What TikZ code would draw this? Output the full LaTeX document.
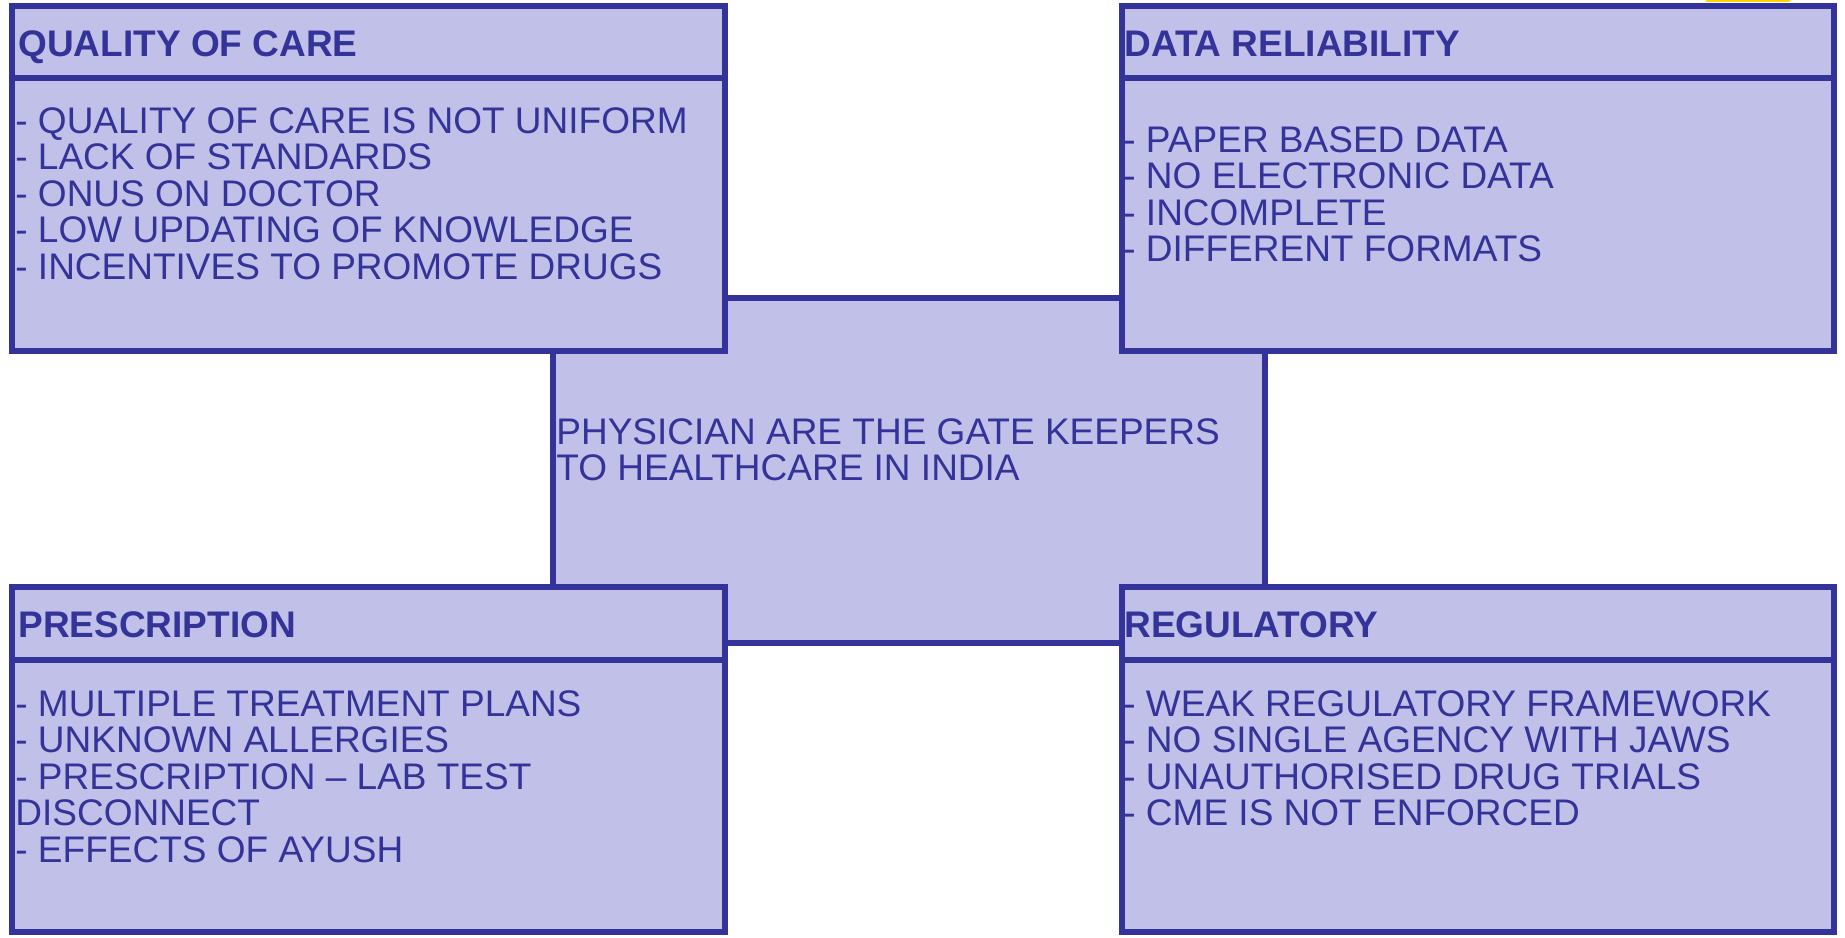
\documentclass[tikz,border=0pt]{standalone}
\usepackage{fontspec}
\setmainfont{Liberation Sans}
\definecolor{boxfill}{HTML}{C0C0E8}
\definecolor{boxline}{HTML}{333399}
\definecolor{edgegold}{HTML}{FFD200}
\newcommand{\itemblock}[1]{\begin{tabular}[t]{@{}l@{}}#1\end{tabular}}
\tikzset{
  panel/.style={fill=boxfill, draw=boxline, line width=3pt},
  heading/.style={anchor=base west, inner sep=0pt, text=boxline, font=\fontsize{18.5}{18}\selectfont\bfseries},
  items/.style={anchor=base west, inner sep=0pt, text=boxline, font=\fontsize{18.5}{18}\selectfont}
}
\begin{document}
\begin{tikzpicture}[x=0.5pt, y=-0.5pt]
\useasboundingbox (0,0) rectangle (1845,937);
\fill[edgegold] (1706,0) rectangle (1790,1.5);

\draw[panel] (553,298) rectangle (1265,643);
\node[items] (gate) at (556,444) {\itemblock{PHYSICIAN ARE THE GATE KEEPERS\\TO HEALTHCARE IN INDIA}};

\draw[panel] (12,6) rectangle (725,351);
\draw[panel] (12,78) -- (725,78);
\node[heading] (care) at (18,56) {QUALITY OF CARE};
\node[items] (carelist) at (15,133) {\itemblock{- QUALITY OF CARE IS NOT UNIFORM\\- LACK OF STANDARDS\\- ONUS ON DOCTOR\\- LOW UPDATING OF KNOWLEDGE\\- INCENTIVES TO PROMOTE DRUGS}};

\draw[panel] (1122,6) rectangle (1834,351);
\draw[panel] (1122,78) -- (1834,78);
\node[heading] (data) at (1124,56) {DATA RELIABILITY};
\node[items] (datalist) at (1123,152) {\itemblock{- PAPER BASED DATA\\- NO ELECTRONIC DATA\\- INCOMPLETE\\- DIFFERENT FORMATS}};

\draw[panel] (12,587) rectangle (725,932);
\draw[panel] (12,660) -- (725,660);
\node[heading] (rx) at (18,637) {PRESCRIPTION};
\node[items] (rxlist) at (15,716) {\itemblock{- MULTIPLE TREATMENT PLANS\\- UNKNOWN ALLERGIES\\- PRESCRIPTION – LAB TEST\\DISCONNECT\\- EFFECTS OF AYUSH}};

\draw[panel] (1122,587) rectangle (1834,932);
\draw[panel] (1122,660) -- (1834,660);
\node[heading] (reg) at (1124,637) {REGULATORY};
\node[items] (reglist) at (1123,716) {\itemblock{- WEAK REGULATORY FRAMEWORK\\- NO SINGLE AGENCY WITH JAWS\\- UNAUTHORISED DRUG TRIALS\\- CME IS NOT ENFORCED}};
\end{tikzpicture}
\end{document}
